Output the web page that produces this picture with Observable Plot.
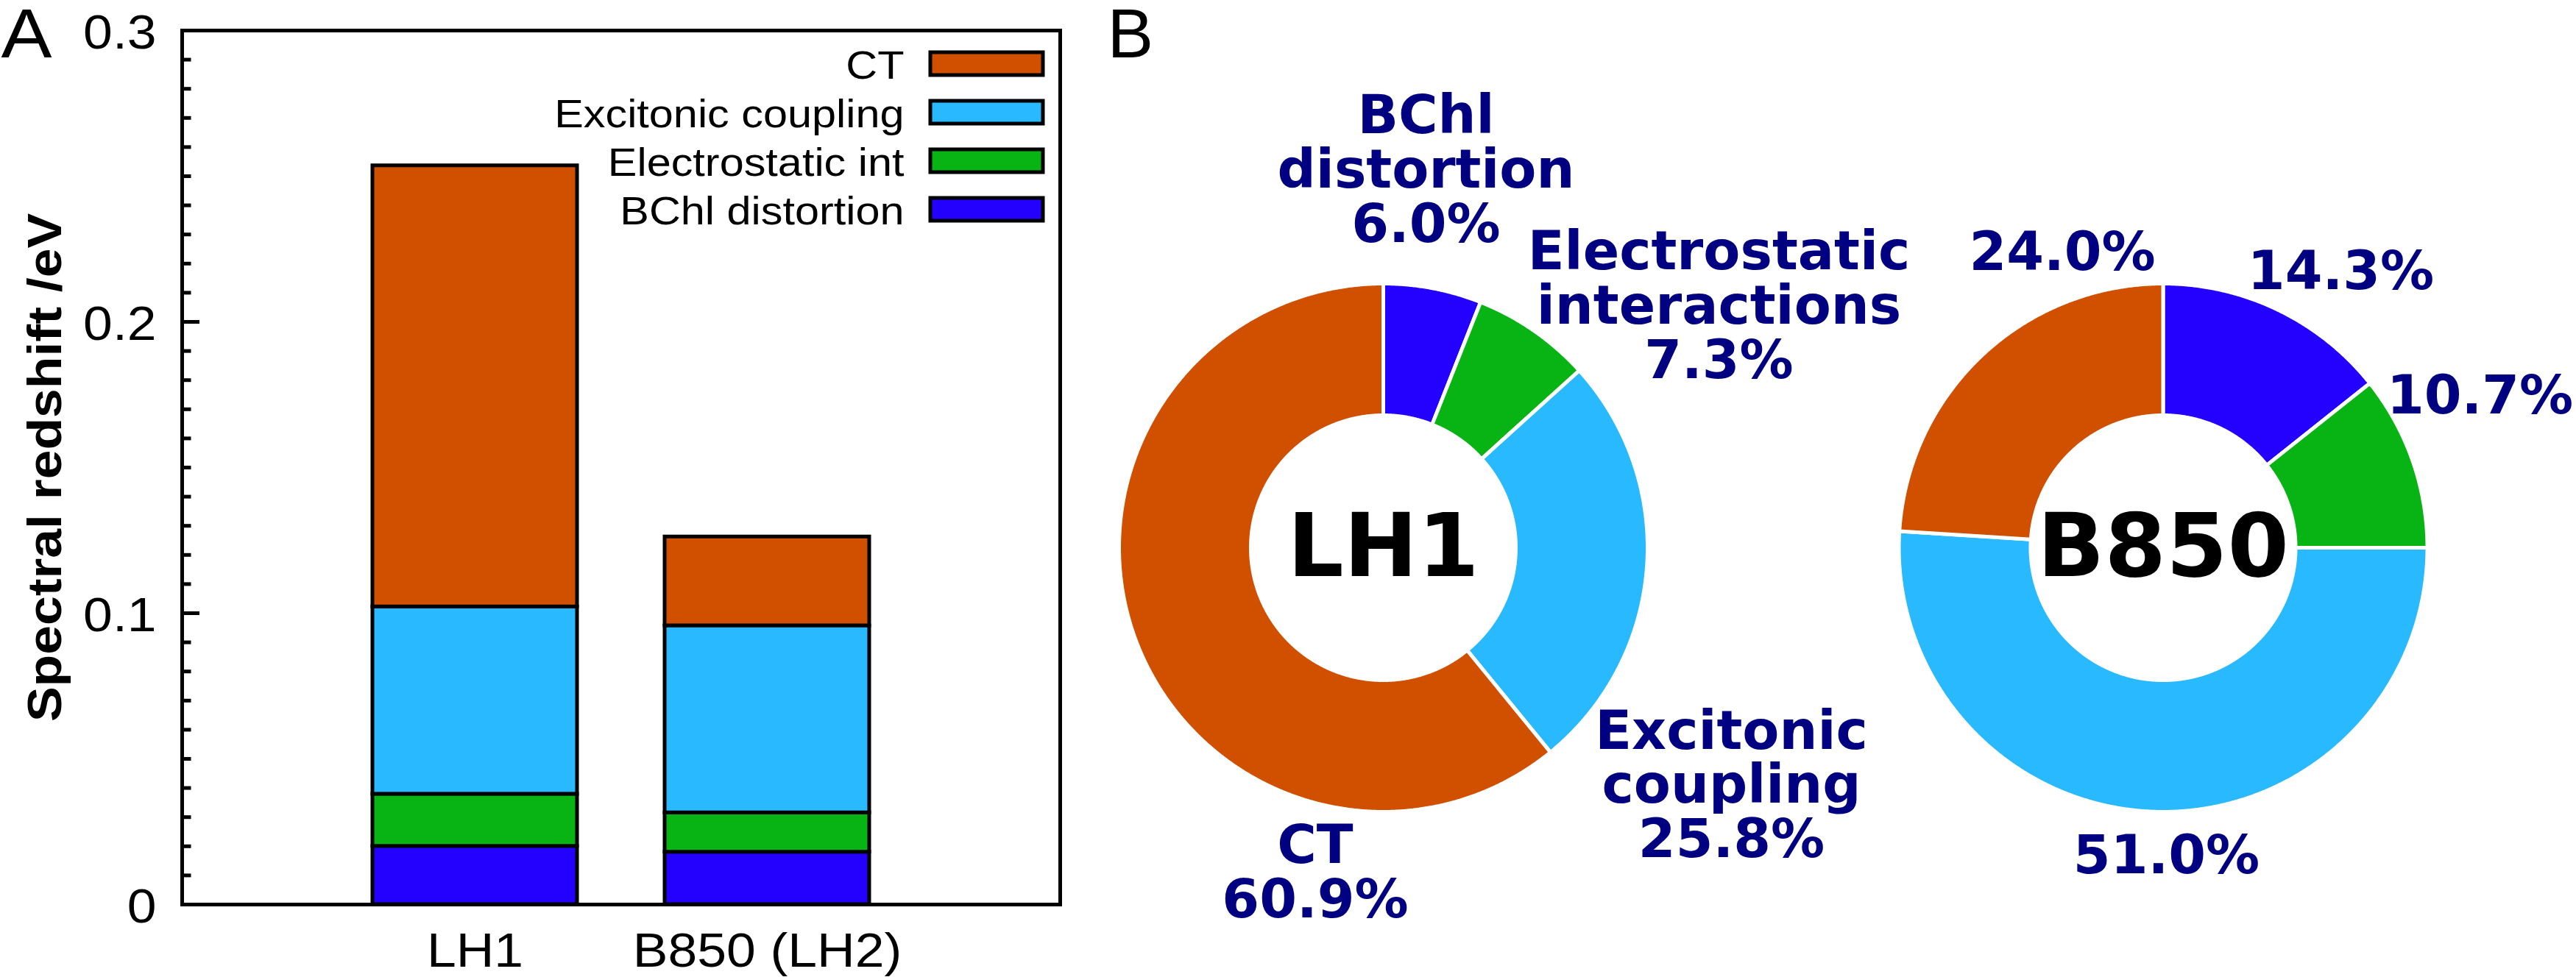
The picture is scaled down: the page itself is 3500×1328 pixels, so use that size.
<!DOCTYPE html>
<html>
<head>
<meta charset="utf-8">
<script src="https://cdn.jsdelivr.net/npm/d3@7"></script>
<script src="https://cdn.jsdelivr.net/npm/@observablehq/plot@0.6"></script>
<style>
  html, body { margin: 0; padding: 0; background: #fff; }
  #fig { position: relative; width: 3500px; height: 1328px; overflow: hidden; background: #fff; }
  #panelA, #panelB { position: absolute; top: 0; }
  #panelA { left: 0; width: 1450px; height: 1328px; }
  #panelB { left: 1450px; width: 2050px; height: 1328px; }
  #fig svg { max-width: none; overflow: visible; }
</style>
</head>
<body>
<div id="fig"><div id="panelA"></div><div id="panelB"></div></div>
<script>
// ---------------- DATA ----------------
const components = ["BChl distortion", "Electrostatic int", "Excitonic coupling", "CT"]; // stack order (bottom → top), pie order (clockwise)
const componentColors = ["#2400FF", "#08B414", "#28B9FF", "#D05000"];
const structures = ["LH1", "B850 (LH2)"];
const lh1Redshift = [0.0200, 0.0179, 0.0643, 0.1514];   // eV
const b850Redshift = [0.0180, 0.0135, 0.0642, 0.0305];  // eV
const yTicks = [0, 0.1, 0.2, 0.3];
const yTickLabels = ["0", "0.1", "0.2", "0.3"];
const legendOrder = ["CT", "Excitonic coupling", "Electrostatic int", "BChl distortion"];

const donutNames = ["LH1", "B850"];
const lh1Percent = [6.0, 7.3, 25.8, 60.9];
const b850Percent = [14.3, 10.7, 51.0, 24.0];
const lh1PieNames = ["BChl\ndistortion", "Electrostatic\ninteractions", "Excitonic\ncoupling", "CT"];

// ---------------- LAYOUT (pixels / styling) ----------------
const A = {width: 1450, height: 1328, left: 247, right: 10, top: 41, bottom: 99};
const frameW = A.width - A.left - A.right;
const TEXT_STRETCH = 1.1;
const fontA = "'Liberation Sans', Arial, Helvetica, sans-serif";
const fontB = "'DejaVu Sans', sans-serif";

// Panel B geometry: units of outer radius
const PX = 359;                     // pixels per outer radius
const innerR = 180 / 359;
const B = {left: 1450, width: 2050, height: 1328};
const centerPx = [1879, 2938.5];
const centerYPx = 744;
const donutCx = centerPx.map(c => (c - centerPx[0]) / PX);
// label anchors (in radii, relative to each donut centre), order = components
const lh1LabelPos = [[0.1616, 1.4295], [1.2702, 0.9136], [1.3175, -0.9006], [-0.2577, -1.2301]];
const b850LabelPos = [[0.6727, 1.0437], [1.1992, 0.5741], [0.0125, -1.1680], [-0.3813, 1.1162]];

// ---------------- PANEL A ----------------
const rows = structures.flatMap((s, si) =>
  components.map((c, ci) => ({structure: s, component: c, value: [lh1Redshift, b850Redshift][si][ci]})));
const minorTicks = d3.range(1, 30).filter(i => i % 10 !== 0).map(i => i / 100);

const swatchSymbol = {
  draw(ctx) {
    ctx.moveTo(-76.5, -15.5); ctx.lineTo(76.5, -15.5); ctx.lineTo(76.5, 15.5); ctx.lineTo(-76.5, 15.5); ctx.closePath();
  }
};
const legendMarks = legendOrder.flatMap((c, i) => {
  const rowY = 86 + i * 66 - A.top;
  return [
    Plot.dot([c], {frameAnchor: "top-right", dx: 1340 - 1440, dy: rowY, symbol: swatchSymbol,
      fill: d => d, stroke: "black", strokeWidth: 5}),
    Plot.text([c], {frameAnchor: "top-right", dx: 1228 - 1440, dy: rowY + 3.5, text: d => d,
      textAnchor: "end", lineAnchor: "middle", fontSize: 54, fill: "black"})
  ];
});

const chartA = Plot.plot({
  width: A.width, height: A.height,
  marginLeft: A.left, marginRight: A.right, marginTop: A.top, marginBottom: A.bottom,
  style: {fontFamily: fontA, background: "transparent", overflow: "visible", color: "black"},
  x: {type: "band", domain: structures, paddingInner: 0.3, paddingOuter: 0.652},
  y: {domain: [0, 0.3]},
  color: {domain: components, range: componentColors},
  marks: [
    Plot.barY(rows, {x: "structure", y: "value", fill: "component", stroke: "black", strokeWidth: 5}),
    Plot.tickY(minorTicks, {y: d => d, stroke: "black", strokeWidth: 5, insetRight: frameW - 12.5}),
    Plot.tickY(yTicks, {y: d => d, stroke: "black", strokeWidth: 5, insetRight: frameW - 24}),
    Plot.frame({stroke: "black", strokeWidth: 5}),
    Plot.axisY(yTicks, {tickSize: 0, tickPadding: 35, fontSize: 65, dy: 4, label: null,
      tickFormat: d => yTickLabels[yTicks.indexOf(d)]}),
    Plot.axisX({tickSize: 0, tickPadding: 38, fontSize: 65, label: null}),
    Plot.text(["Spectral redshift /eV"], {frameAnchor: "left", dx: 62 - A.left, rotate: -90,
      fontSize: 65, fontWeight: "bold", textAnchor: "middle", lineAnchor: "middle", fill: "black"}),
    Plot.text(["A"], {frameAnchor: "top-left", dx: 1 - A.left, dy: 11 - A.top, fontSize: 94,
      textAnchor: "start", lineAnchor: "top", fill: "black"}),
    ...legendMarks
  ]
});
document.getElementById("panelA").appendChild(chartA);
chartA.querySelectorAll("text").forEach(t => {
  const tr = t.getAttribute("transform");
  if (tr) t.setAttribute("transform", tr + ` scale(${TEXT_STRETCH},1)`);
});

// ---------------- PANEL B ----------------
function ring(pcts, cx, tag) {
  const pts = [];
  let cum = 0;
  pcts.forEach((p, i) => {
    const a0 = cum / 100 * 2 * Math.PI, a1 = (cum + p) / 100 * 2 * Math.PI;
    cum += p;
    const n = Math.max(8, Math.ceil((a1 - a0) / (Math.PI / 720)));
    const key = tag + "-" + i;
    for (let k = 0; k <= n; k++) {
      const a = a0 + (a1 - a0) * k / n;
      pts.push({key, component: components[i], x: cx + Math.sin(a), y: Math.cos(a)});
    }
    for (let k = n; k >= 0; k--) {
      const a = a0 + (a1 - a0) * k / n;
      pts.push({key, component: components[i], x: cx + innerR * Math.sin(a), y: innerR * Math.cos(a)});
    }
  });
  return pts;
}
const slices = [...ring(lh1Percent, donutCx[0], "LH1"), ...ring(b850Percent, donutCx[1], "B850")];
const pieLabels = [
  ...lh1Percent.map((p, i) => ({x: donutCx[0] + lh1LabelPos[i][0], y: lh1LabelPos[i][1],
      text: `${lh1PieNames[i]}\n${p.toFixed(1)}%`})),
  ...b850Percent.map((p, i) => ({x: donutCx[1] + b850LabelPos[i][0], y: b850LabelPos[i][1],
      text: `${p.toFixed(1)}%`}))
];

const chartB = Plot.plot({
  width: B.width, height: B.height, margin: 0,
  style: {fontFamily: fontB, background: "transparent", overflow: "visible", color: "black"},
  x: {domain: [(B.left - centerPx[0]) / PX, (B.left + B.width - centerPx[0]) / PX], axis: null},
  y: {domain: [-(B.height - centerYPx) / PX, centerYPx / PX], axis: null},
  color: {domain: components, range: componentColors},
  marks: [
    Plot.line(slices, {x: "x", y: "y", z: "key", fill: "component", stroke: "white", strokeWidth: 5,
      curve: "linear-closed"}),
    Plot.text(donutNames, {x: (d, i) => donutCx[i], y: () => 0, text: d => d, fontSize: 120,
      fontWeight: "bold", fill: "black", textAnchor: "middle", lineAnchor: "middle"}),
    Plot.text(pieLabels, {x: "x", y: "y", text: "text", fontSize: 73, fontWeight: "bold", fill: "#000080",
      textAnchor: "middle", lineAnchor: "middle", lineHeight: 1.01}),
    Plot.text(["B"], {frameAnchor: "top-left", dx: 54, dy: 11, fontSize: 94, fontFamily: fontA,
      textAnchor: "start", lineAnchor: "top", fill: "black", ariaLabel: "panel-letter"})
  ]
});
document.getElementById("panelB").appendChild(chartB);
chartB.querySelectorAll('g[aria-label="panel-letter"] text').forEach(t => {
  const tr = t.getAttribute("transform");
  if (tr) t.setAttribute("transform", tr + ` scale(${TEXT_STRETCH},1)`);
});
</script>
</body>
</html>
